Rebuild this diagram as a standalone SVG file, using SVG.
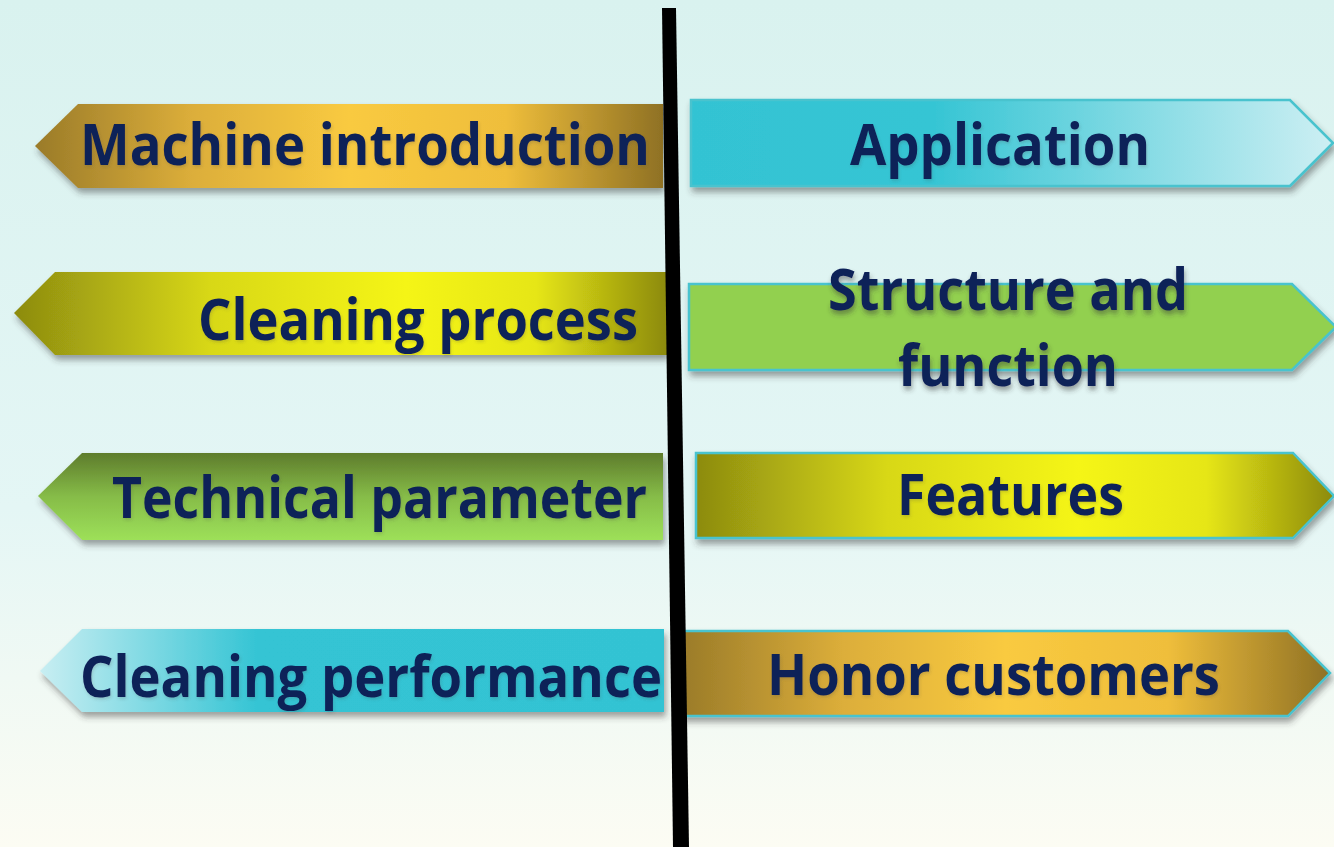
<svg xmlns="http://www.w3.org/2000/svg" width="1334" height="847" viewBox="0 0 1334 847">
<style>
.lbl{font-family:"Open Sans","Liberation Sans",sans-serif;font-weight:700;font-size:57px;fill:#0f2059;filter:url(#tsh)}
.lbl2{filter:url(#tsh2)}
.rb{stroke:#48c3ce;stroke-width:2.5;stroke-linejoin:miter}
.arr{filter:url(#sh)}
</style>
<defs>
<linearGradient id="bg" x1="0" y1="0" x2="0" y2="1">
<stop offset="0" stop-color="#d9f2ef"/>
<stop offset="0.6" stop-color="#e4f6f5"/>
<stop offset="1" stop-color="#fcfcf3"/>
</linearGradient>
<linearGradient id="gold" x1="0" y1="0" x2="1" y2="0">
<stop offset="0" stop-color="#9a7b29"/>
<stop offset="0.25" stop-color="#dcae3a"/>
<stop offset="0.5" stop-color="#f9ca40"/>
<stop offset="0.75" stop-color="#efbe3b"/>
<stop offset="1" stop-color="#8f7124"/>
</linearGradient>
<linearGradient id="yel" x1="0" y1="0" x2="1" y2="0">
<stop offset="0" stop-color="#8c8b10"/>
<stop offset="0.3" stop-color="#d8d816"/>
<stop offset="0.6" stop-color="#f5f516"/>
<stop offset="0.8" stop-color="#e6e614"/>
<stop offset="1" stop-color="#8c8a0e"/>
</linearGradient>
<linearGradient id="grn" x1="0" y1="0" x2="0" y2="1">
<stop offset="0" stop-color="#5e7c2c"/>
<stop offset="0.5" stop-color="#86bc48"/>
<stop offset="1" stop-color="#9de059"/>
</linearGradient>
<linearGradient id="cynL" x1="0" y1="0" x2="1" y2="0">
<stop offset="0" stop-color="#c8eef2"/>
<stop offset="0.35" stop-color="#34c4d4"/>
<stop offset="1" stop-color="#33c3d3"/>
</linearGradient>
<linearGradient id="cynR" x1="0" y1="0" x2="1" y2="0">
<stop offset="0" stop-color="#33c3d3"/>
<stop offset="0.38" stop-color="#36c5d4"/>
<stop offset="1" stop-color="#cdeff3"/>
</linearGradient>
<filter id="sh" x="-5%" y="-20%" width="110%" height="150%">
<feDropShadow dx="2" dy="5" stdDeviation="3" flood-color="#333" flood-opacity="0.45"/>
</filter>
<filter id="tsh" x="-5%" y="-20%" width="110%" height="150%">
<feDropShadow dx="1" dy="2" stdDeviation="1.5" flood-color="#444" flood-opacity="0.2"/>
</filter>
<filter id="tsh2" x="-5%" y="-20%" width="110%" height="150%">
<feDropShadow dx="1" dy="4" stdDeviation="2.5" flood-color="#333" flood-opacity="0.45"/>
</filter>
</defs>
<rect x="0" y="0" width="1334" height="847" fill="url(#bg)"/>

<g id="node-machine-introduction">
<polygon class="arr" points="663,104 78,104 35,146 78,188 663,188" fill="url(#gold)"/>
<text class="lbl" x="80" y="165" textLength="570" lengthAdjust="spacingAndGlyphs">Machine introduction</text>
</g>
<g id="node-cleaning-process">
<polygon class="arr" points="667,272 55,272 14,313 55,355 667,355" fill="url(#yel)"/>
<text class="lbl" x="198" y="340" textLength="440" lengthAdjust="spacingAndGlyphs">Cleaning process</text>
</g>
<g id="node-technical-parameter">
<polygon class="arr" points="663,453 82,453 38,496 82,540 663,540" fill="url(#grn)"/>
<text class="lbl" x="112" y="518" textLength="535" lengthAdjust="spacingAndGlyphs">Technical parameter</text>
</g>
<g id="node-cleaning-performance">
<polygon class="arr" points="664,629 82,629 40,671 82,712 664,712" fill="url(#cynL)"/>
<text class="lbl" x="80" y="697" textLength="582" lengthAdjust="spacingAndGlyphs">Cleaning performance</text>
</g>

<g id="node-application">
<polygon class="arr rb" points="691,100 1290,100 1333,143 1290,186 691,186" fill="url(#cynR)"/>
<text class="lbl" x="850" y="165" textLength="300" lengthAdjust="spacingAndGlyphs">Application</text>
</g>
<g id="node-structure-and-function">
<polygon class="arr rb" points="689,284 1292,284 1336,327 1292,370 689,370" fill="#92d050"/>
<text class="lbl lbl2" x="828" y="310" textLength="360" lengthAdjust="spacingAndGlyphs">Structure and</text>
<text class="lbl lbl2" x="898" y="386" textLength="220" lengthAdjust="spacingAndGlyphs">function</text>
</g>
<g id="node-features">
<polygon class="arr rb" points="696,453 1293,453 1334,496 1293,538 696,538" fill="url(#yel)"/>
<text class="lbl" x="897" y="515" textLength="227" lengthAdjust="spacingAndGlyphs">Features</text>
</g>
<g id="node-honor-customers">
<polygon class="arr rb" points="681,631 1288,631 1330,673 1288,716 681,716" fill="url(#gold)"/>
<text class="lbl" x="767" y="695" textLength="453" lengthAdjust="spacingAndGlyphs">Honor customers</text>
</g>

<g id="connectors">
<polygon points="662,8 676,8 689,847 673,847" fill="#000"/>
</g>
</svg>
